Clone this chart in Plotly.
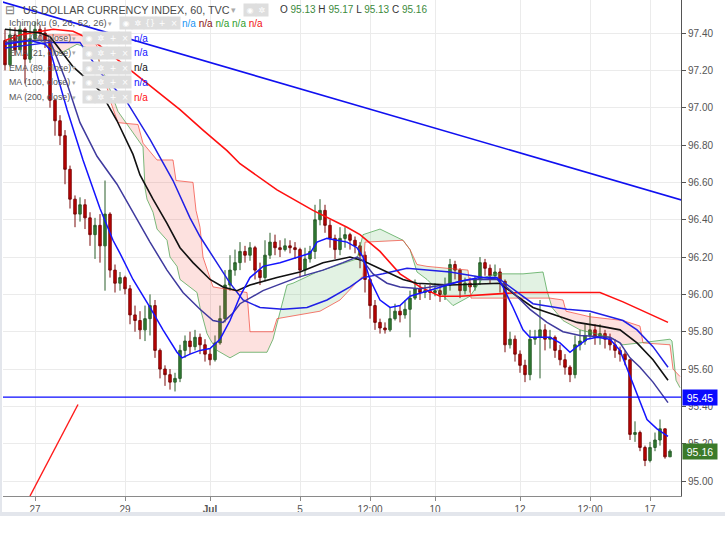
import numpy as np
import plotly.graph_objects as go

# ---------------- data ----------------
first_open = 97.36
closes = [97.23, 97.39, 97.31, 97.42, 97.26, 97.37, 97.42, 97.40, 97.36, 97.04,
          96.93, 96.85, 96.67, 96.51, 96.43, 96.48, 96.41, 96.32, 96.37, 96.26,
          96.43, 96.13, 96.06, 96.09, 96.03, 95.89, 95.86, 95.81, 95.87, 95.94,
          95.70, 95.60, 95.57, 95.53, 95.55, 95.70, 95.75, 95.72, 95.77, 95.73,
          95.68, 95.65, 95.74, 95.87, 96.05, 96.13, 96.17, 96.23, 96.21, 96.25,
          96.13, 96.09, 96.21, 96.28, 96.25, 96.24, 96.26, 96.25, 96.24, 96.13,
          96.19, 96.23, 96.40, 96.45, 96.37, 96.30, 96.24, 96.30, 96.32, 96.29,
          96.26, 96.21, 96.08, 95.94, 95.85, 95.82, 95.81, 95.87, 95.91, 95.89,
          95.92, 95.98, 96.03, 96.01, 96.02, 96.01, 96.02, 96.00, 96.05, 96.16,
          96.13, 96.02, 96.06, 96.04, 96.08, 96.17, 96.14, 96.10, 96.12, 96.07,
          95.73, 95.76, 95.68, 95.62, 95.57, 95.76, 95.77, 95.81, 95.76, 95.77,
          95.70, 95.65, 95.61, 95.57, 95.73, 95.75, 95.78, 95.81, 95.77, 95.79,
          95.76, 95.73, 95.70, 95.68, 95.65, 95.25, 95.26, 95.18, 95.11, 95.18,
          95.22, 95.28, 95.13, 95.16]
highs = [97.42, 97.43, 97.43, 97.44, 97.43, 97.44, 97.46, 97.44, 97.43, 97.37,
         97.05, 96.96, 96.88, 96.69, 96.53, 96.52, 96.51, 96.44, 96.41, 96.43,
         96.61, 96.44, 96.16, 96.12, 96.10, 96.05, 95.94, 95.91, 95.94, 96.00,
         95.97, 95.71, 95.62, 95.60, 95.58, 95.73, 95.78, 95.80, 95.81, 95.79,
         95.76, 95.71, 95.78, 95.94, 96.13, 96.21, 96.24, 96.28, 96.26, 96.28,
         96.26, 96.17, 96.29, 96.33, 96.32, 96.29, 96.30, 96.29, 96.28, 96.25,
         96.25, 96.26, 96.48, 96.51, 96.48, 96.40, 96.32, 96.36, 96.36, 96.33,
         96.31, 96.28, 96.23, 96.09, 95.97, 95.87, 95.85, 95.93, 95.95, 95.94,
         95.97, 96.02, 96.08, 96.06, 96.05, 96.05, 96.06, 96.05, 96.09, 96.19,
         96.18, 96.14, 96.09, 96.09, 96.10, 96.20, 96.19, 96.16, 96.16, 96.14,
         96.08, 95.80, 95.78, 95.70, 95.65, 95.81, 95.81, 95.97, 95.84, 95.81,
         95.78, 95.73, 95.68, 95.62, 95.78, 95.81, 95.84, 95.90, 95.84, 95.84,
         95.81, 95.79, 95.76, 95.72, 95.70, 95.65, 95.32, 95.27, 95.19, 95.21,
         95.26, 95.33, 95.28, 95.17]
lows = [97.20, 97.22, 97.28, 97.34, 97.13, 97.24, 97.35, 97.36, 97.32, 97.00,
        96.85, 96.80, 96.59, 96.46, 96.36, 96.39, 96.35, 96.26, 96.19, 96.17,
        96.02, 96.09, 96.01, 96.02, 96.00, 95.84, 95.80, 95.76, 95.75, 95.78,
        95.66, 95.55, 95.51, 95.49, 95.48, 95.53, 95.66, 95.68, 95.70, 95.68,
        95.64, 95.62, 95.64, 95.73, 95.85, 96.02, 96.10, 96.13, 96.17, 96.18,
        96.08, 96.05, 96.07, 96.19, 96.21, 96.20, 96.23, 96.22, 96.19, 96.09,
        96.10, 96.17, 96.19, 96.37, 96.33, 96.25, 96.19, 96.21, 96.25, 96.24,
        96.22, 96.14, 96.01, 95.87, 95.81, 95.79, 95.79, 95.80, 95.86, 95.85,
        95.87, 95.77, 95.97, 95.97, 95.98, 95.97, 95.99, 95.96, 95.97, 96.02,
        96.08, 95.98, 96.00, 96.01, 96.02, 96.05, 96.10, 96.06, 96.08, 96.01,
        95.69, 95.71, 95.64, 95.58, 95.53, 95.54, 95.73, 95.55, 95.70, 95.71,
        95.66, 95.62, 95.57, 95.53, 95.55, 95.70, 95.73, 95.76, 95.73, 95.73,
        95.71, 95.70, 95.66, 95.64, 95.62, 95.22, 95.21, 95.16, 95.08, 95.10,
        95.16, 95.19, 95.12, 95.13]

tick_bars = [6, 24, 41, 59, 73, 86, 103, 117, 129]
tick_labels = ["27", "29", "<b>Jul</b>", "5", "12:00", "10", "12", "12:00", "17"]
price_ticks = [95.0, 95.2, 95.4, 95.6, 95.8, 96.0, 96.2, 96.4, 96.6, 96.8, 97.0, 97.2, 97.4]

# moving averages (bar index, price)
ema50_x = [0, 5, 9, 12.4, 15, 18.4, 22.4, 25.6, 29, 32.4, 35.6, 39, 41.6, 43.6, 45.6, 47, 51.6, 58.4,
           63.6, 67.6, 70.4, 71.6, 73.6, 76.4, 79, 83, 87.6, 93, 98.4, 101.6, 105, 108.4, 111.6, 115,
           121, 123, 125, 127, 129.6, 132.6]
ema50_y = [97.35, 97.36, 97.36, 97.13, 96.92, 96.74, 96.59, 96.44, 96.28, 96.13, 96.01, 95.92, 95.86,
           95.85, 95.90, 95.95, 96.02, 96.09, 96.13, 96.17, 96.20, 96.18, 96.11, 96.06, 96.04, 96.03,
           96.05, 96.08, 96.08, 96.01, 95.92, 95.85, 95.80, 95.78, 95.77, 95.74, 95.66, 95.61, 95.53,
           95.42]
ema21_x = [0, 5, 8, 9, 12.4, 15.6, 19, 21.6, 23, 25.6, 29, 31.6, 34.4, 35.4, 37, 39, 41, 43, 45, 47,
           49, 51.6, 55, 58.4, 61, 62.4, 64.4, 66.4, 68.4, 70.4, 71.6, 73, 75, 77, 79, 81, 83.6, 87,
           91, 95, 98.4, 99.6, 101.6, 103.6, 105, 107, 109, 111, 113, 114.4, 116.4, 118.4, 121, 123,
           125, 127, 128.4, 130.4, 132.6]
ema21_y = [97.34, 97.36, 97.34, 97.31, 96.99, 96.72, 96.46, 96.29, 96.22, 96.08, 95.93, 95.81, 95.69,
           95.66, 95.68, 95.70, 95.71, 95.76, 95.86, 95.99, 96.09, 96.15, 96.17, 96.20, 96.22, 96.28,
           96.30, 96.29, 96.28, 96.25, 96.20, 96.08, 95.97, 95.93, 95.94, 95.99, 96.01, 96.04, 96.07,
           96.09, 96.09, 96.04, 95.93, 95.81, 95.77, 95.77, 95.77, 95.74, 95.69, 95.72, 95.76, 95.77,
           95.76, 95.70, 95.56, 95.42, 95.33, 95.28, 95.24]
ema89_x = [0, 7, 9, 13.6, 19, 22.4, 25.6, 27, 29.6, 32.4, 35, 37.6, 41, 43.6, 46.4, 49, 54.4, 59,
           63.6, 69, 71.6, 75.6, 79.6, 82.4, 89, 99, 102.4, 105.6, 109, 114.4, 119, 123, 126.4, 129.6,
           132.6]
ema89_y = [97.42, 97.40, 97.38, 97.22, 97.09, 96.93, 96.75, 96.64, 96.51, 96.38, 96.25, 96.17, 96.08,
           96.04, 96.02, 96.05, 96.09, 96.12, 96.17, 96.20, 96.18, 96.13, 96.08, 96.06, 96.05, 96.06,
           95.99, 95.93, 95.90, 95.85, 95.83, 95.81, 95.74, 95.65, 95.54]
ma100_x = [0, 9, 15, 19, 24.4, 29, 33.6, 37, 39, 42.4, 45, 47.6, 51, 55.6, 60.4, 64.4, 69, 71.6, 75.6,
           80.4, 84.4, 89, 95.6, 99, 105.6, 112.4, 117, 123.6, 126.4, 129.6, 132.6]
ma100_y = [97.32, 97.35, 97.35, 97.19, 97.03, 96.83, 96.61, 96.41, 96.31, 96.17, 96.06, 95.97, 95.93,
           95.92, 95.93, 95.97, 96.04, 96.09, 96.11, 96.14, 96.13, 96.12, 96.09, 96.08, 95.95, 95.92,
           95.91, 95.86, 95.81, 95.72, 95.61]
ma200_x = [0, 3, 9.6, 13.6, 17.6, 21, 25.6, 30.4, 35, 39.6, 44.4, 47, 54.4, 61.6, 68.4, 71, 75, 79,
           83, 87, 91, 97, 103, 109, 115.6, 119, 123.6, 127.6, 132.6]
ma200_y = [97.36, 97.39, 97.42, 97.41, 97.36, 97.29, 97.19, 97.09, 96.99, 96.88, 96.77, 96.70, 96.56,
           96.45, 96.36, 96.32, 96.23, 96.11, 96.04, 95.99, 95.99, 96.00, 96.01, 96.01, 96.01, 96.01,
           95.96, 95.91, 95.85]

# Ichimoku leading spans (bar index, price)
spanA_x = [7, 11, 14.4, 17.6, 18.4, 19, 19.6, 22.6, 27.6, 28, 28.4, 29.6, 30.4, 32.4, 33, 34.4, 35,
           38.4, 39, 40.4, 41, 42.4, 45, 47, 52.4, 53.6, 56.4, 57.6, 62.4, 70.4, 71.6, 75, 79.6, 81,
           82.4, 84.4, 89.6, 93, 95.6, 98.4, 103.6, 107.6, 108.4, 109.4, 111.6, 115, 121, 123.6, 127,
           133, 133.4, 134.2, 135]
spanA_y = [97.36, 97.29, 97.34, 97.31, 97.31, 97.22, 97.20, 96.98, 96.79, 96.57, 96.51, 96.44, 96.35,
           96.29, 96.20, 96.15, 96.08, 96.01, 95.93, 95.79, 95.76, 95.70, 95.66, 95.69, 95.69, 95.76,
           96.05, 96.06, 96.12, 96.19, 96.32, 96.35, 96.29, 96.24, 96.12, 96.08, 95.94, 95.99, 96.09,
           96.11, 96.11, 96.12, 96.02, 95.93, 95.86, 95.81, 95.77, 95.73, 95.74, 95.76, 95.75, 95.54,
           95.50]
spanB_x = [7, 15, 17.6, 18.4, 19, 20.4, 21, 22.6, 26.6, 27.6, 30.4, 33.6, 34.2, 37.6, 38.2, 39, 39.6,
           41, 41.6, 48.4, 49, 53.6, 54.4, 63, 67, 71.6, 72, 79.6, 81, 82.4, 84.4, 88.4, 92.6, 93.2,
           109, 111.6, 112.2, 117, 123.6, 127, 127.6, 133, 133.6, 135]
spanB_y = [97.39, 97.39, 97.36, 97.33, 97.22, 97.11, 97.04, 96.92, 96.91, 96.81, 96.72, 96.72, 96.61,
           96.60, 96.45, 96.36, 96.20, 96.08, 96.04, 96.01, 95.80, 95.80, 95.87, 95.91, 95.97, 96.10,
           96.28, 96.29, 96.24, 96.16, 96.15, 96.14, 96.13, 95.98, 95.98, 95.97, 95.91, 95.88, 95.86,
           95.83, 95.74, 95.73, 95.60, 95.56]

# drawings
trend_x = [-1, 136]
trend_y = [97.57, 96.50]
red_trend_x = [5, 14.6]
red_trend_y = [94.92, 95.41]
level_price = 95.45
last_price = 95.16

# ---------------- figure ----------------
W, H = 725, 543
LM, RM, TM, BM = 3, 44, 0, 47
PW, PH = W - LM - RM, H - TM - BM
FONT = "Arial, 'Liberation Sans', sans-serif"


def pxx(px):
    return (px - LM) / PW


def pxy(py):
    return 1 - (py - TM) / PH


n = len(closes)
bars = list(range(n))
opens = [first_open] + closes[:-1]
hi = [max(h, o, c) for h, o, c in zip(highs, opens, closes)]
lo = [min(l, o, c) for l, o, c in zip(lows, opens, closes)]

fig = go.Figure()

# cloud fills
xs = np.union1d(spanA_x, spanB_x)
a = np.interp(xs, spanA_x, spanA_y)
b = np.interp(xs, spanB_x, spanB_y)
pts = []
for k in range(len(xs)):
    if k > 0:
        d0, d1 = a[k - 1] - b[k - 1], a[k] - b[k]
        if d0 * d1 < 0:
            t = d0 / (d0 - d1)
            xc = xs[k - 1] + t * (xs[k] - xs[k - 1])
            yc = a[k - 1] + t * (a[k] - a[k - 1])
            pts.append((xc, yc, yc, True))
    pts.append((xs[k], a[k], b[k], False))
runs, cur = [], [pts[0]]
for p in pts[1:]:
    cur.append(p)
    if p[3]:
        runs.append(cur)
        cur = [p]
runs.append(cur)
for r in runs:
    if len(r) < 2:
        continue
    diff = np.mean([p[1] - p[2] for p in r])
    col = "rgba(76,175,80,0.16)" if diff > 0 else "rgba(244,67,54,0.16)"
    px_ = [p[0] for p in r] + [p[0] for p in reversed(r)]
    py_ = [p[1] for p in r] + [p[2] for p in reversed(r)]
    fig.add_trace(go.Scatter(x=px_, y=py_, fill="toself", fillcolor=col, mode="none",
                             hoverinfo="skip"))

fig.add_trace(go.Scatter(x=spanA_x, y=spanA_y, mode="lines", line=dict(color="rgba(67,160,71,0.7)", width=1)))
fig.add_trace(go.Scatter(x=spanB_x, y=spanB_y, mode="lines", line=dict(color="rgba(244,67,54,0.7)", width=1)))

fig.add_trace(go.Candlestick(
    x=bars, open=opens, high=hi, low=lo, close=closes,
    increasing=dict(line=dict(color="#2b5e2b", width=1), fillcolor="#2f7d32"),
    decreasing=dict(line=dict(color="#7a0a0a", width=1), fillcolor="#c40000"),
    whiskerwidth=0, hoverinfo="skip"))

fig.add_trace(go.Scatter(x=ma200_x, y=ma200_y, mode="lines", line=dict(color="#ff1010", width=1.6)))
fig.add_trace(go.Scatter(x=ma100_x, y=ma100_y, mode="lines", line=dict(color="#1f1fe6", width=1.5)))
fig.add_trace(go.Scatter(x=ema89_x, y=ema89_y, mode="lines", line=dict(color="#111111", width=1.6)))
fig.add_trace(go.Scatter(x=ema50_x, y=ema50_y, mode="lines", line=dict(color="#3f3a9e", width=1.5)))
fig.add_trace(go.Scatter(x=ema21_x, y=ema21_y, mode="lines", line=dict(color="#1414ff", width=1.5)))

fig.add_trace(go.Scatter(x=trend_x, y=trend_y, mode="lines", line=dict(color="#1010f0", width=1.6)))
fig.add_trace(go.Scatter(x=red_trend_x, y=red_trend_y, mode="lines", line=dict(color="#ff1a1a", width=1.4)))
fig.add_trace(go.Scatter(x=[-1, 136], y=[level_price, level_price], mode="lines",
                         line=dict(color="#0a0aff", width=1.3)))

ann = []
# title row
ann.append(dict(x=pxx(3), y=pxy(10), text="⊟", font=dict(size=12, color="#777", family=FONT)))
ann.append(dict(x=pxx(21), y=pxy(10), text="US DOLLAR CURRENCY INDEX, 60, TVC",
                font=dict(size=10.8, color="#4a4a4a", family=FONT)))
ann.append(dict(x=pxx(229), y=pxy(10), text="▾", font=dict(size=9, color="#aaa", family=FONT)))
g = "#3c8a3c"
ann.append(dict(x=pxx(278), y=pxy(10),
                text=(f"O <span style='color:{g}'>95.13</span> H <span style='color:{g}'>95.17</span> "
                      f"L <span style='color:{g}'>95.13</span> C <span style='color:{g}'>95.16</span>"),
                font=dict(size=10, color="#333", family=FONT)))


def box(px, py, glyph):
    ann.append(dict(x=pxx(px), y=pxy(py), text=glyph, bgcolor="#dedede", width=10, height=10,
                    align="center", font=dict(size=8, color="white", family="DejaVu Sans")))


box(243, 10, "◉")
box(255, 10, "✲")

# Ichimoku row
ann.append(dict(x=pxx(7), y=pxy(23), text="Ichimoku (9, 26, 52, 26)",
                font=dict(size=9.3, color="#555", family=FONT)))
ann.append(dict(x=pxx(106), y=pxy(23), text="▾", font=dict(size=7, color="#aaa", family=FONT)))
for k, gl in enumerate(["◉", "✲", "{}", "+", "×"]):
    box(119 + 12 * k, 23, gl)
ann.append(dict(x=pxx(180), y=pxy(23),
                text=("<span style='color:#2196f3'>n/a</span> <span style='color:#8b1010'>n/a</span> "
                      "<span style='color:#2e9e2e'>n/a</span> <span style='color:#2e9e2e'>n/a</span> "
                      "<span style='color:#f01010'>n/a</span>"),
                font=dict(size=10, family=FONT)))

rows = [("EMA (50, close)", "#1414ff"), ("EMA (21, close)", "#1414ff"), ("EMA (89, close)", "#111"),
        ("MA (100, close)", "#1414ff"), ("MA (200, close)", "#ff1010")]
for k, (txt, col) in enumerate(rows):
    yy = 38 + 14.8 * k
    ann.append(dict(x=pxx(7), y=pxy(yy), text=txt, font=dict(size=8.8, color="#555", family=FONT)))
    ann.append(dict(x=pxx(70), y=pxy(yy), text="▾", font=dict(size=7, color="#aaa", family=FONT)))
    for j, gl in enumerate(["◉", "✲", "+", "×"]):
        box(82 + 12 * j, yy, gl)
    ann.append(dict(x=pxx(132), y=pxy(yy), text="n/a", font=dict(size=10, color=col, family=FONT)))

for a_ in ann:
    a_.update(xref="paper", yref="paper", xanchor="left", yanchor="middle", showarrow=False)

# price labels on the axis
ann.append(dict(x=pxx(682), y=level_price, xref="paper", yref="y", xanchor="left", yanchor="middle",
                showarrow=False, text="95.45", bgcolor="#0a0aff", width=32, height=13,
                font=dict(size=10.5, color="white", family=FONT)))
ann.append(dict(x=pxx(682), y=last_price, xref="paper", yref="y", xanchor="left", yanchor="middle",
                showarrow=False, text="95.16", bgcolor="#3b7a2a", width=32, height=13,
                font=dict(size=10.5, color="white", family=FONT)))

fig.update_layout(
    width=W, height=H, margin=dict(l=LM, r=RM, t=TM, b=BM),
    paper_bgcolor="white", plot_bgcolor="white", showlegend=False, hovermode=False,
    annotations=ann,
    xaxis=dict(range=[-0.4, 135.2], tickmode="array", tickvals=tick_bars, ticktext=tick_labels,
               showgrid=True, gridcolor="#ebebeb", gridwidth=1, zeroline=False,
               showline=True, linecolor="#8a8a8a", linewidth=1, ticks="outside", ticklen=4,
               tickcolor="#8a8a8a", tickfont=dict(size=10, color="#555", family=FONT),
               rangeslider=dict(visible=False), fixedrange=True),
    yaxis=dict(range=[94.92, 97.577], side="right", tickmode="array", tickvals=price_ticks,
               ticktext=[f"{v:.2f}" for v in price_ticks], showgrid=True, gridcolor="#ebebeb",
               gridwidth=1, zeroline=False, showline=True, linecolor="#555", linewidth=1,
               ticks="outside", ticklen=4, tickcolor="#555",
               tickfont=dict(size=10, color="#555", family=FONT), fixedrange=True),
    shapes=[
        dict(type="rect", xref="paper", yref="paper", x0=-LM / PW, x1=(W - LM) / PW,
             y0=-(516 - PH) / PH, y1=-(512 - PH) / PH, fillcolor="#e3e6ec", line=dict(width=0)),
        dict(type="rect", xref="paper", yref="paper", x0=-LM / PW, x1=-1 / PW,
             y0=-(516 - PH) / PH, y1=1, fillcolor="#e3e6ec", line=dict(width=0)),
    ],
)

fig.write_html("out.html", config={"displayModeBar": False},
               post_script="document.body.style.margin='0px';document.body.style.padding='0px';")
